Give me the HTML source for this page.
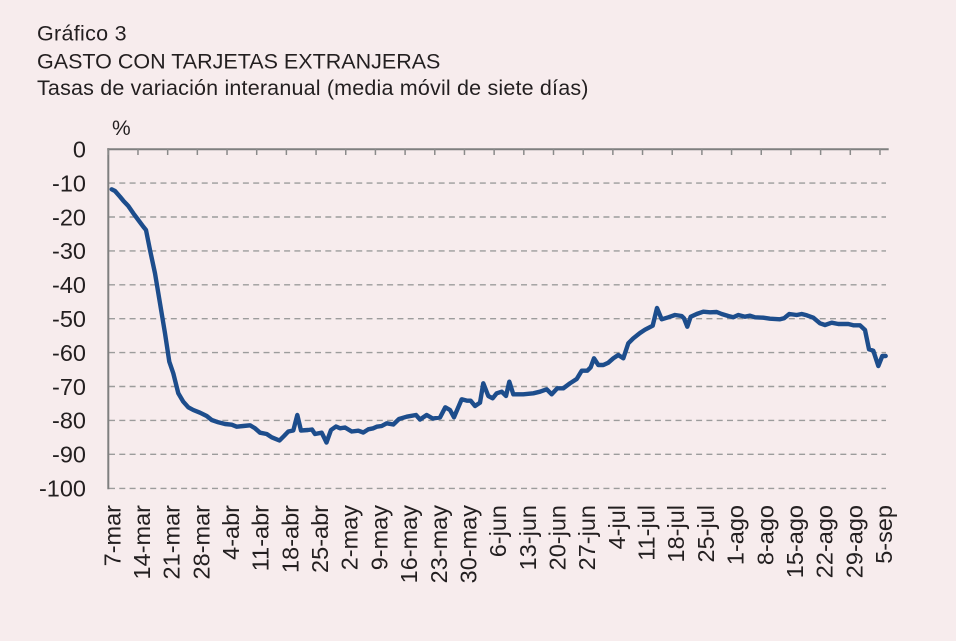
<!DOCTYPE html>
<html>
<head>
<meta charset="utf-8">
<style>
  html,body{margin:0;padding:0;}
  body{width:956px;height:641px;background:#f7eced;overflow:hidden;}
  svg{display:block;}
  text{font-family:"Liberation Sans",Arial,Helvetica,sans-serif;fill:#231f20;}
</style>
</head>
<body>
<svg width="956" height="641" viewBox="0 0 956 641" xmlns="http://www.w3.org/2000/svg">
  <rect x="0" y="0" width="956" height="641" fill="#f7eced"/>
  <!-- Titles -->
  <text x="37" y="40.7" font-size="21.5" letter-spacing="0.3">Gráfico 3</text>
  <text x="37" y="68.3" font-size="21.5">GASTO CON TARJETAS EXTRANJERAS</text>
  <text x="37" y="95" font-size="21.5" letter-spacing="0.18">Tasas de variación interanual (media móvil de siete días)</text>
  <text x="112" y="135" font-size="21">%</text>

  <!-- Gridlines (dashed) -->
  <g stroke="#9c9c9c" stroke-width="1.4" stroke-dasharray="6,4.3" fill="none">
    <line x1="109" y1="183.1" x2="886" y2="183.1"/>
    <line x1="109" y1="217.0" x2="886" y2="217.0"/>
    <line x1="109" y1="250.9" x2="886" y2="250.9"/>
    <line x1="109" y1="284.8" x2="886" y2="284.8"/>
    <line x1="109" y1="318.7" x2="886" y2="318.7"/>
    <line x1="109" y1="352.6" x2="886" y2="352.6"/>
    <line x1="109" y1="386.5" x2="886" y2="386.5"/>
    <line x1="109" y1="420.4" x2="886" y2="420.4"/>
    <line x1="109" y1="454.3" x2="886" y2="454.3"/>
    <line x1="109" y1="488.4" x2="886" y2="488.4"/>
  </g>

  <!-- Axes -->
  <g stroke="#7f7f7f" stroke-width="2" fill="none">
    <line x1="108.3" y1="148.2" x2="108.3" y2="489.2"/>
    <line x1="107.3" y1="149.2" x2="888.7" y2="149.2"/>
  </g>
  <!-- Top ticks -->
  <g stroke="#8a8a8a" stroke-width="1.5">
    <line x1="108.3" y1="149" x2="108.3" y2="155"/>
    <line x1="137.98" y1="149" x2="137.98" y2="155"/>
    <line x1="167.66" y1="149" x2="167.66" y2="155"/>
    <line x1="197.34" y1="149" x2="197.34" y2="155"/>
    <line x1="227.02" y1="149" x2="227.02" y2="155"/>
    <line x1="256.7" y1="149" x2="256.7" y2="155"/>
    <line x1="286.38" y1="149" x2="286.38" y2="155"/>
    <line x1="316.06" y1="149" x2="316.06" y2="155"/>
    <line x1="345.74" y1="149" x2="345.74" y2="155"/>
    <line x1="375.42" y1="149" x2="375.42" y2="155"/>
    <line x1="405.1" y1="149" x2="405.1" y2="155"/>
    <line x1="434.78" y1="149" x2="434.78" y2="155"/>
    <line x1="464.46" y1="149" x2="464.46" y2="155"/>
    <line x1="494.14" y1="149" x2="494.14" y2="155"/>
    <line x1="523.82" y1="149" x2="523.82" y2="155"/>
    <line x1="553.5" y1="149" x2="553.5" y2="155"/>
    <line x1="583.18" y1="149" x2="583.18" y2="155"/>
    <line x1="612.86" y1="149" x2="612.86" y2="155"/>
    <line x1="642.54" y1="149" x2="642.54" y2="155"/>
    <line x1="672.22" y1="149" x2="672.22" y2="155"/>
    <line x1="701.9" y1="149" x2="701.9" y2="155"/>
    <line x1="731.58" y1="149" x2="731.58" y2="155"/>
    <line x1="761.26" y1="149" x2="761.26" y2="155"/>
    <line x1="790.94" y1="149" x2="790.94" y2="155"/>
    <line x1="820.62" y1="149" x2="820.62" y2="155"/>
    <line x1="850.3" y1="149" x2="850.3" y2="155"/>
    <line x1="879.98" y1="149" x2="879.98" y2="155"/>
  </g>

  <!-- Y labels -->
  <g font-size="23.5" text-anchor="end">
    <text x="86" y="157.5">0</text>
    <text x="86" y="191.4">-10</text>
    <text x="86" y="225.3">-20</text>
    <text x="86" y="259.2">-30</text>
    <text x="86" y="293.1">-40</text>
    <text x="86" y="327.0">-50</text>
    <text x="86" y="360.9">-60</text>
    <text x="86" y="394.8">-70</text>
    <text x="86" y="428.7">-80</text>
    <text x="86" y="462.6">-90</text>
    <text x="86" y="496.7">-100</text>
  </g>

  <!-- X labels -->
  <g font-size="23.5" text-anchor="end">
    <text transform="translate(120.3,505) rotate(-90)">7-mar</text>
    <text transform="translate(149.98,505) rotate(-90)">14-mar</text>
    <text transform="translate(179.66,505) rotate(-90)">21-mar</text>
    <text transform="translate(209.34,505) rotate(-90)">28-mar</text>
    <text transform="translate(239.02,505) rotate(-90)">4-abr</text>
    <text transform="translate(268.7,505) rotate(-90)">11-abr</text>
    <text transform="translate(298.38,505) rotate(-90)">18-abr</text>
    <text transform="translate(328.06,505) rotate(-90)">25-abr</text>
    <text transform="translate(357.74,505) rotate(-90)">2-may</text>
    <text transform="translate(387.42,505) rotate(-90)">9-may</text>
    <text transform="translate(417.1,505) rotate(-90)">16-may</text>
    <text transform="translate(446.78,505) rotate(-90)">23-may</text>
    <text transform="translate(476.46,505) rotate(-90)">30-may</text>
    <text transform="translate(506.14,505) rotate(-90)">6-jun</text>
    <text transform="translate(535.82,505) rotate(-90)">13-jun</text>
    <text transform="translate(565.5,505) rotate(-90)">20-jun</text>
    <text transform="translate(595.18,505) rotate(-90)">27-jun</text>
    <text transform="translate(624.86,505) rotate(-90)">4-jul</text>
    <text transform="translate(654.54,505) rotate(-90)">11-jul</text>
    <text transform="translate(684.22,505) rotate(-90)">18-jul</text>
    <text transform="translate(713.9,505) rotate(-90)">25-jul</text>
    <text transform="translate(743.58,505) rotate(-90)">1-ago</text>
    <text transform="translate(773.26,505) rotate(-90)">8-ago</text>
    <text transform="translate(802.94,505) rotate(-90)">15-ago</text>
    <text transform="translate(832.62,505) rotate(-90)">22-ago</text>
    <text transform="translate(862.3,505) rotate(-90)">29-ago</text>
    <text transform="translate(891.98,505) rotate(-90)">5-sep</text>
  </g>

  <!-- Series -->
  <polyline fill="none" stroke="#1d4d8c" stroke-width="4.4" stroke-linejoin="round" stroke-linecap="round"
    points="111.7,189.3 115,191 120,196.7 123.3,200.7 128.3,206 133.3,213.3 138.3,220 143.3,226.7 146,230 150,250 155,273.3 160,303.3 165,333.3 169.3,361.7 173.3,373.3 178.3,393.3 183.3,401.7 188.3,407.3 193.3,410 200,412.7 206.7,416 211.7,420 218.3,422.3 225,424 231.7,424.7 236.7,426.7 243.3,426 250,425.3 255,428.3 260,432.7 266.7,434 271.7,437.3 279.5,440.5 284,436 288.3,431.5 293.3,430.5 297.3,415 301,430.5 308,430 312,429.5 315,434 321.7,432.7 326.5,442.5 331,430 336,426.5 340,428.3 345,427.5 351.7,431.5 358.3,430.7 363.3,432.5 368.3,429.3 373.3,428.3 376.7,426.7 381.7,426 386.7,423.3 393.3,424.5 399,419 406.7,416.7 416,415 420,419.5 426.7,415 432.7,418.5 440,417.5 445.3,407.3 450,410 454,417.3 461.7,399.3 467.3,400.7 470.7,400.7 475,406 480,402.7 483.3,383.3 488.3,396 492.7,398.3 496.7,393.3 501.7,391.7 506,396 509.3,381.7 513.3,394.3 523.3,394.3 533.3,393.3 540,391.7 546.7,389.3 551.7,394.3 557.3,388.3 563.3,388.3 570,383.3 576.7,379 581.7,370.7 587.3,370.7 590.7,367.3 594,358.3 598.3,365 603.3,365 608.3,362.7 613.3,358.3 618.3,355 623.3,358.3 628.3,343.3 633.3,338.3 640,333 645,329.7 652.7,325.7 657,308 661.7,319.3 668.3,317.3 675,315 681.7,316 684,318.3 687.3,326.7 690.7,316.7 696.7,314 703.3,311.7 710,312.3 716.7,312 721.7,314 728.3,316 733.3,317.3 738.3,315 745,316.7 750,315.7 755,317.3 763.3,317.7 770,318.7 780,319.3 784,318.3 789.3,314 796.7,315 801.7,314 806.7,315.3 813.3,317.7 820,323.3 825,325 831.7,322.7 838.3,324 848.3,324 853.3,325.3 860,325.3 865,330 869,349.3 873.3,350.7 878.3,366 882.3,356 885.7,356"/>
</svg>
</body>
</html>
